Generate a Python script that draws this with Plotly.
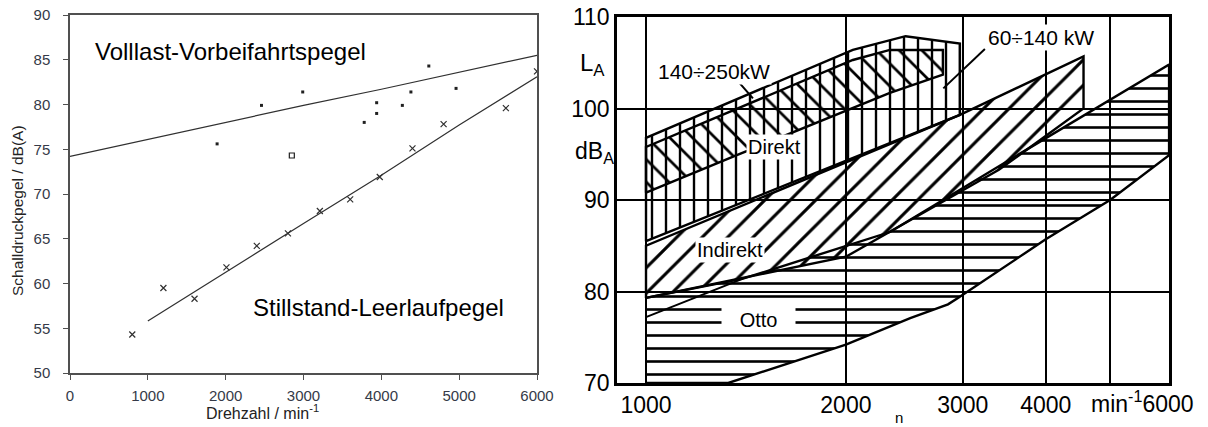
import math
import plotly.graph_objects as go

# ---------------- Left panel data (Drehzahl / min^-1 , dB(A)) ----------------
vollast_n = [0, 1000, 2000, 3000, 4000, 5000, 6000]
vollast_db = [74.2, 76.1, 78.0, 79.9, 81.7, 83.6, 85.5]

leerlauf_n = [1000, 2000, 3000, 4000, 5000, 6000]
leerlauf_db = [55.8, 61.3, 66.7, 72.1, 77.7, 83.1]

idle_n = [800, 1200, 1600, 2010, 2400, 2800, 3210, 3600, 3980, 4400, 4800, 5600, 6000]
idle_db = [54.3, 59.5, 58.3, 61.8, 64.2, 65.6, 68.1, 69.4, 71.9, 75.1, 77.8, 79.6, 83.7]

full_n = [1890, 2460, 2990, 3780, 3940, 3940, 4270, 4380, 4610, 4960]
full_db = [75.6, 79.9, 81.4, 78.0, 80.2, 79.0, 79.9, 81.4, 84.3, 81.8]

open_n = [2850]
open_db = [74.3]

# ---------------- Right panel data (n / min^-1 , L_A / dB_A) ----------------
otto_n = [1000, 1330, 2000, 2500, 2850, 2950, 4000, 5000, 6135, 6135, 3530, 2330, 1400, 1000]
otto_db = [70.0, 70.0, 74.2, 77.1, 78.6, 79.3, 85.7, 90.0, 94.9, 104.8, 94.4, 86.5, 81.4, 79.3]

otto_inner_n = [1000, 1400]
otto_inner_db = [77.2, 81.4]

indirekt_n = [1000, 1400, 2000, 3400, 4560, 4560, 2970, 1000, 1000]
indirekt_db = [79.3, 81.5, 83.8, 93.3, 100.0, 105.7, 99.3, 85.0, 79.3]

direkt_n = [1000, 2970, 2970, 2460, 2049, 1000, 1000]
direkt_db = [85.5, 99.3, 107.1, 107.9, 106.4, 96.8, 85.5]

gross_n = [1000, 1370, 2330, 2800, 2800, 2330, 2049, 1000, 1000]
gross_db = [90.8, 94.9, 101.7, 103.7, 106.4, 106.4, 105.3, 95.8, 90.8]

lead1_n = [1371, 1449]
lead1_db = [103.1, 101.1]
lead2_n = [3239, 2804]
lead2_db = [106.5, 102.2]

x_ticks_right = [1000, 2000, 3000, 4000, 5000]
x_ticktext_right = ["1000", "2000", "3000", "4000", " "]
y_ticks_right = [70, 80, 90, 100, 110]

# The page body adds an 8 px margin, so the figure is drawn 8 px smaller
# and all page-pixel positions are shifted by that offset.
OFF = 8
W, H = 1208 - OFF, 427 - OFF


def px(x):
    return (x - OFF) / W


def py(y):
    return 1 - (y - OFF) / H


LFONT = "Liberation Sans, Arial, sans-serif"
GRAY = "#505050"
TICKC = "#353a48"

fig = go.Figure()

# ---- left panel traces ----
fig.add_trace(go.Scatter(x=vollast_n, y=vollast_db, mode="lines",
                         line=dict(color="#303030", width=1.2), xaxis="x", yaxis="y", showlegend=False))
fig.add_trace(go.Scatter(x=leerlauf_n, y=leerlauf_db, mode="lines",
                         line=dict(color="#303030", width=1.2), xaxis="x", yaxis="y", showlegend=False))
fig.add_trace(go.Scatter(x=idle_n, y=idle_db, mode="markers",
                         marker=dict(symbol="x-thin", size=6, line=dict(color="#303030", width=1.2)),
                         xaxis="x", yaxis="y", showlegend=False))
fig.add_trace(go.Scatter(x=full_n, y=full_db, mode="markers",
                         marker=dict(symbol="square", size=3, color="#202020"),
                         xaxis="x", yaxis="y", showlegend=False))
fig.add_trace(go.Scatter(x=open_n, y=open_db, mode="markers",
                         marker=dict(symbol="square-open", size=5, color="#202020", line=dict(width=1.2)),
                         xaxis="x", yaxis="y", showlegend=False))


# ---- right panel hatched regions ----
def region(xs, ys, shape, size, solidity):
    return go.Scatter(x=xs, y=ys, mode="lines", fill="toself",
                      fillcolor="rgba(255,255,255,0)",
                      fillpattern=dict(shape=shape, size=size, solidity=solidity,
                                       fgcolor="black", fgopacity=1, bgcolor="rgba(255,255,255,0)"),
                      line=dict(color="black", width=2.4),
                      xaxis="x2", yaxis="y2", showlegend=False, hoverinfo="skip")


fig.add_trace(region(otto_n, otto_db, "-", 13, 0.2))
fig.add_trace(region(indirekt_n, indirekt_db, "/", 18, 0.17))
fig.add_trace(region(direkt_n, direkt_db, "|", 14, 0.17))
fig.add_trace(region(gross_n, gross_db, "\\", 16, 0.17))

for xs, ys in [(otto_inner_n, otto_inner_db), (lead1_n, lead1_db), (lead2_n, lead2_db)]:
    fig.add_trace(go.Scatter(x=xs, y=ys, mode="lines", line=dict(color="black", width=2),
                             xaxis="x2", yaxis="y2", showlegend=False, hoverinfo="skip"))

# ---- layout ----
fig.update_layout(
    width=W, height=H, margin=dict(l=0, r=0, t=0, b=0, pad=0),
    paper_bgcolor="white", plot_bgcolor="white",
    font=dict(family=LFONT, color="black"),
    xaxis=dict(domain=[px(70), px(537)], range=[0, 6000], tickvals=[0, 1000, 2000, 3000, 4000, 5000, 6000],
               showgrid=False, zeroline=False, showline=True, mirror=True, linecolor=GRAY, linewidth=1.5,
               ticks="outside", ticklen=5, tickcolor=GRAY, tickfont=dict(size=15, color=TICKC),
               ticklabelstandoff=3, ticklabeloverflow="allow", automargin=False, anchor="y"),
    yaxis=dict(domain=[py(373), py(15)], range=[50, 90], tickvals=[50, 55, 60, 65, 70, 75, 80, 85, 90],
               showgrid=False, zeroline=False, showline=True, mirror=True, linecolor=GRAY, linewidth=1.5,
               ticks="outside", ticklen=5, tickcolor=GRAY, tickfont=dict(size=15, color=TICKC),
               ticklabelstandoff=10, ticklabeloverflow="allow", automargin=False, anchor="x"),
    xaxis2=dict(domain=[px(617), px(1169)], type="log", range=[2.9563, 3.7877],
                tickvals=x_ticks_right, ticktext=x_ticktext_right,
                showgrid=True, gridcolor="black", gridwidth=2, zeroline=False,
                showline=True, mirror=True, linecolor="black", linewidth=2.5,
                ticks="", tickfont=dict(size=23, color="black"), ticklabeloverflow="allow",
                automargin=False, anchor="y2"),
    yaxis2=dict(domain=[py(383), py(17)], range=[70, 110],
                tickvals=y_ticks_right, ticktext=[str(v) for v in y_ticks_right],
                showgrid=True, gridcolor="black", gridwidth=2, zeroline=False,
                showline=True, mirror=True, linecolor="black", linewidth=2.5,
                ticks="", tickfont=dict(size=23, color="black"), ticklabeloverflow="allow",
                automargin=False, anchor="x2"),
)

ann = []
# left panel texts
ann.append(dict(text="Volllast-Vorbeifahrtspegel", x=px(93), y=py(52), xref="paper", yref="paper",
                xanchor="left", yanchor="middle", showarrow=False, font=dict(size=24, color="black")))
ann.append(dict(text="Stillstand-Leerlaufpegel", x=px(251), y=py(307), xref="paper", yref="paper",
                xanchor="left", yanchor="middle", showarrow=False, font=dict(size=24, color="black")))
ann.append(dict(text="Schalldruckpegel / dB(A)", x=px(18), y=py(211), xref="paper", yref="paper",
                textangle=-90, xanchor="center", yanchor="middle", showarrow=False,
                font=dict(size=15.5, color="#222")))
ann.append(dict(text="Drehzahl / min<sup>-1</sup>", x=px(262), y=py(412), xref="paper", yref="paper",
                xanchor="center", yanchor="middle", showarrow=False, font=dict(size=16, color="#222")))
# right panel texts
ann.append(dict(text="L<sub>A</sub>", x=px(592), y=py(64), xref="paper", yref="paper",
                xanchor="center", yanchor="middle", showarrow=False, font=dict(size=24, color="black")))
ann.append(dict(text="dB<sub>A</sub>", x=px(594), y=py(152), xref="paper", yref="paper",
                xanchor="center", yanchor="middle", showarrow=False, font=dict(size=23, color="black")))
ann.append(dict(text="min<sup>-1</sup>6000", x=px(1142), y=py(402), xref="paper", yref="paper",
                xanchor="center", yanchor="middle", showarrow=False, font=dict(size=23, color="black")))
ann.append(dict(text="n", x=px(899), y=py(407), xref="paper", yref="paper",
                xanchor="center", yanchor="top", showarrow=False, font=dict(size=15, color="black")))


def lab(text, n, db, size=20):
    return dict(text=text, x=math.log10(n), y=db, xref="x2", yref="y2",
                xanchor="center", yanchor="middle", showarrow=False, bgcolor="white",
                font=dict(size=size, color="black"))


ann.append(lab("140÷250kW", 1266, 104.0, 21))
ann.append(lab("60÷140 kW", 3934, 107.8, 21))
ann.append(lab("Direkt", 1564, 95.8, 20))
ann.append(lab("Indirekt", 1338, 84.5, 20))
ann.append(lab("&nbsp;&nbsp;&nbsp;Otto&nbsp;&nbsp;&nbsp;", 1475, 76.9, 20))

fig.update_layout(annotations=ann)
fig.write_html("out.html")
